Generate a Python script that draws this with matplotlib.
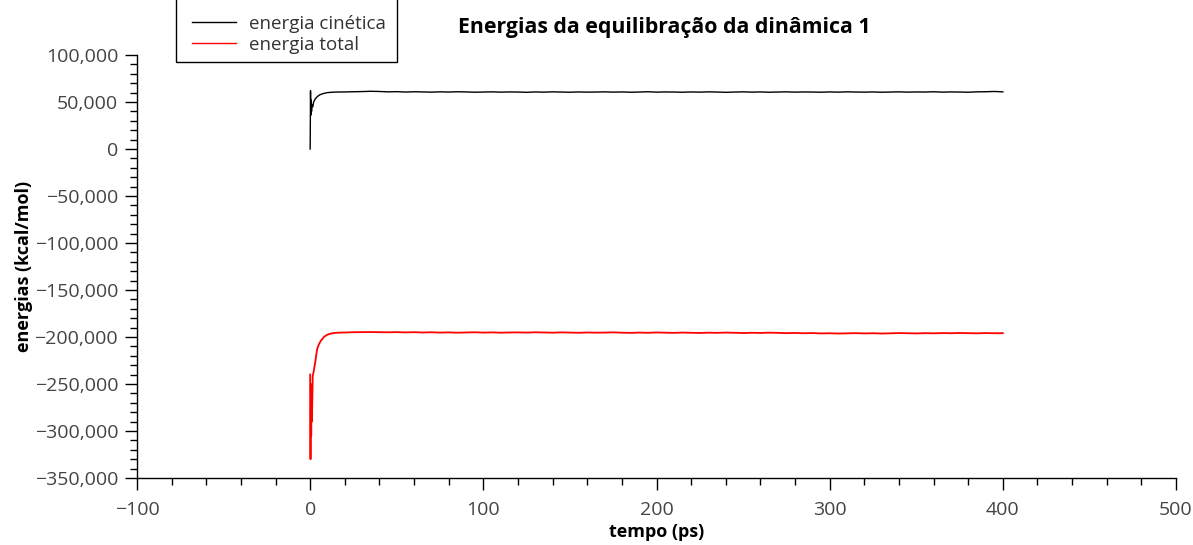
import matplotlib
matplotlib.use("Agg")
import matplotlib.pyplot as plt
from matplotlib.ticker import MultipleLocator, FuncFormatter
from matplotlib.patches import Rectangle

plt.rcParams['font.family'] = ['Open Sans', 'DejaVu Sans']

# Simulation time (ps): dense sampling during the start, then every 5 ps
t_start = [0, 0.2, 0.4, 0.6, 0.8, 1.0, 1.5, 2, 3, 4, 5, 6, 8, 10, 12, 15]
t_plateau = list(range(20, 401, 5))

kin_start = [0, 62000, 36000, 52000, 40000, 47000, 45000, 50000, 53500,
             55500, 57000, 58000, 59200, 60000, 60300, 60600]
kin_plateau = [
    60700, 60900, 61100, 61400, 61200, 60800, 61000, 60600, 60900, 60700,
    60500, 60800, 60600, 60900, 60700, 60400, 60600, 60800, 60500, 60700,
    60600, 60300, 60700, 60500, 60800, 60600, 60400, 60700, 60500, 60600,
    60800, 60500, 60700, 60400, 60600, 60900, 60500, 60700, 60600, 60400,
    60700, 60500, 60800, 60600, 60300, 60600, 60800, 60500, 60700, 60400,
    60600, 60800, 60500, 60700, 60600, 60400, 60700, 60500, 60800, 60600,
    60500, 60700, 60400, 60600, 60800, 60500, 60700, 60600, 60900, 60500,
    60700, 60600, 60400, 60800, 60900, 61200, 60800]

tot_start = [-240000, -330000, -250000, -305000, -255000, -290000, -241000,
             -237000, -226000, -213000, -208000, -204500, -199800, -197500,
             -196300, -195500]
tot_plateau = [
    -195200, -194900, -194800, -194700, -194900, -195000, -194800, -195100, -194900, -195200,
    -195000, -195300, -195100, -195400, -195200, -195000, -195300, -195100, -195400, -195200,
    -195100, -195300, -195000, -195200, -195400, -195100, -195300, -195500, -195200, -195400,
    -195300, -195100, -195400, -195600, -195300, -195500, -195200, -195400, -195600, -195300,
    -195500, -195700, -195400, -195600, -195300, -195500, -195800, -195500, -195700, -195400,
    -195600, -195900, -195700, -196000, -195800, -196200, -196000, -196300, -196100, -195900,
    -196200, -196000, -196300, -196100, -195800, -196000, -196200, -195900, -196100, -195800,
    -196000, -195700, -195900, -196100, -195800, -196000, -195900]

tempo = t_start + t_plateau
energia_cinetica = kin_start + kin_plateau
energia_total = tot_start + tot_plateau

fig = plt.figure(figsize=(11.93, 5.45), dpi=100)
W, H = 1193, 545
ax = fig.add_axes([137 / W, 1 - 478 / H, (1176 - 137) / W, (478 - 55) / H])

l1, = ax.plot(tempo, energia_cinetica, color='black', lw=1.0, label='energia cinética')
l2, = ax.plot(tempo, energia_total, color='red', lw=1.3, label='energia total')

ax.set_xlim(-100, 500)
ax.set_ylim(-350000, 100000)
ax.xaxis.set_major_locator(MultipleLocator(100))
ax.xaxis.set_minor_locator(MultipleLocator(20))
ax.yaxis.set_major_locator(MultipleLocator(50000))
ax.yaxis.set_minor_locator(MultipleLocator(10000))


def fmt(v, pos):
    return f"{v:,.0f}".replace("-", "\u2212")


ax.xaxis.set_major_formatter(FuncFormatter(fmt))
ax.yaxis.set_major_formatter(FuncFormatter(fmt))

for s in ('top', 'right'):
    ax.spines[s].set_visible(False)
for s in ('left', 'bottom'):
    ax.spines[s].set_linewidth(1.0)

ax.tick_params(which='major', direction='out', length=8.6, width=1.0,
               labelsize=14, labelcolor='#444444')
ax.tick_params(axis='x', which='major', pad=8)
ax.tick_params(axis='y', which='major', pad=5)
ax.tick_params(which='minor', direction='out', length=5, width=1.0)

ax.set_xlabel('tempo (ps)', fontsize=13, fontweight='bold', labelpad=3)
ax.set_ylabel('energias (kcal/mol)', fontsize=13, fontweight='bold', labelpad=1)

fig.text(664 / W, 1 - 28 / H, 'Energias da equilibração da dinâmica 1',
         ha='center', va='center', fontsize=15.3, fontweight='bold')

leg = fig.legend(handles=[l1, l2], loc='lower left',
                 bbox_to_anchor=(183 / W, 1 - 63 / H), frameon=False,
                 fontsize=13.5, handlelength=2.3, handletextpad=0.7,
                 labelspacing=0.15, borderpad=0.0)
for txt in leg.get_texts():
    txt.set_color('#333333')
for h in leg.legend_handles:
    h.set_linewidth(1.0)

fig.patches.append(Rectangle((176 / W, 1 - 62 / H), (397 - 176) / W, 80 / H,
                             transform=fig.transFigure, fill=False,
                             edgecolor='black', lw=1.0, clip_on=False))

fig.savefig('out.png', dpi=100)
